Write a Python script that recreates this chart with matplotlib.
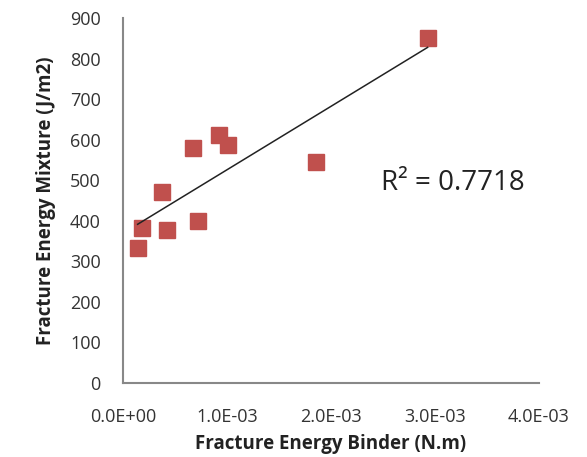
import numpy as np
import matplotlib
matplotlib.use('Agg')
import matplotlib.pyplot as plt

plt.rcParams['font.family'] = ['Open Sans', 'DejaVu Sans']

# fracture energy of binder (N.m) vs mixture (J/m2)
binder = [0.141e-3, 0.180e-3, 0.372e-3, 0.426e-3, 0.676e-3,
          0.724e-3, 0.926e-3, 1.010e-3, 1.856e-3, 2.930e-3]
mixture = [334, 382, 470, 376, 579, 400, 612, 588, 546, 851]
x_ticks = [0.0, 1.0e-3, 2.0e-3, 3.0e-3, 4.0e-3]
x_tick_labels = ['0.0E+00', '1.0E-03', '2.0E-03', '3.0E-03', '4.0E-03']
y_ticks = list(range(0, 901, 100))

fig = plt.figure(figsize=(5.87, 4.57), dpi=100)
ax = fig.add_axes([0.2095, 0.162, 0.7085, 0.7986])

ax.plot(binder, mixture, linestyle='none', marker='s', markersize=11,
        color='#C0504D', markeredgecolor='#C0504D')

# linear trendline
slope, intercept = np.polyfit(binder, mixture, 1)
xs = np.array([min(binder), max(binder)])
ax.plot(xs, slope * xs + intercept, color='#222222', linewidth=1.1)

ax.text(0.793, 0.548, 'R² = 0.7718', transform=ax.transAxes,
        fontsize=20, ha='center', va='center', color='#222222')

ax.set_xlim(0, 4.0e-3)
ax.set_ylim(0, 900)
ax.set_xticks(x_ticks)
ax.set_xticklabels(x_tick_labels)
ax.set_yticks(y_ticks)
ax.tick_params(length=0, labelsize=13, colors='#333333')
ax.tick_params(axis='x', pad=18)
ax.tick_params(axis='y', pad=16)

for side in ['top', 'right']:
    ax.spines[side].set_visible(False)
for side in ['left', 'bottom']:
    ax.spines[side].set_color('#888888')
    ax.spines[side].set_linewidth(1.5)

ax.set_xlabel('Fracture Energy Binder (N.m)', fontsize=13.5, fontweight='bold',
              color='#222222', labelpad=6)
ax.set_ylabel('Fracture Energy Mixture (J/m2)', fontsize=13.5, fontweight='bold',
              color='#222222', labelpad=10)

fig.savefig('out.png', dpi=100)
